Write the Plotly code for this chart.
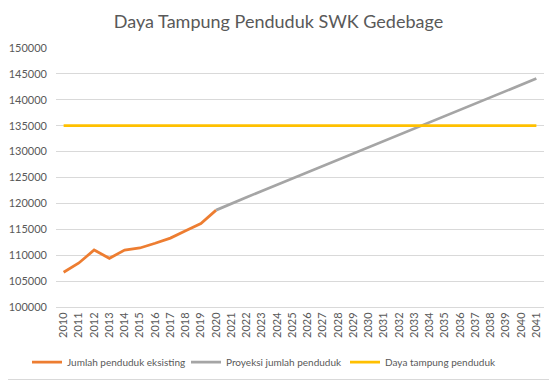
import plotly.graph_objects as go

years = [str(y) for y in range(2010, 2042)]
existing_years = years[:11]
existing_values = [106700, 108500, 111000, 109400, 111000, 111400, 112300, 113300, 114700, 116100, 118700]
projection_years = years[10:]
projection_values = [118700, 120000, 121200, 122400, 123600, 124800, 126000, 127200, 128400, 129700, 130900,
                     132100, 133300, 134500, 135700, 136900, 138100, 139200, 140400, 141600, 142800, 144100]
capacity_values = [135000] * len(years)

FONT = "Lato, Open Sans, sans-serif"
fig = go.Figure()
fig.add_trace(go.Scatter(x=existing_years, y=existing_values, mode="lines",
                         name="Jumlah penduduk eksisting", line=dict(color="#ED7D31", width=2.75)))
fig.add_trace(go.Scatter(x=projection_years, y=projection_values, mode="lines",
                         name="Proyeksi jumlah penduduk", line=dict(color="#A5A5A5", width=2.75)))
fig.add_trace(go.Scatter(x=years, y=capacity_values, mode="lines",
                         name="Daya tampung penduduk", line=dict(color="#FFC000", width=2.75)))

# page body has an 8px margin, so the figure is drawn 8px smaller and offset
OFF = 8
W, H = 557 - OFF, 380 - OFF
L, R, T, B = 56 - OFF, 13, 48 - OFF, 73
pw, ph = W - L - R, H - T - B
fig.update_layout(
    width=W, height=H,
    margin=dict(l=L, r=R, t=T, b=B, autoexpand=False),
    paper_bgcolor="white", plot_bgcolor="white",
    font=dict(family=FONT, color="#595959", size=11),
    title=dict(text="Daya Tampung Penduduk SWK Gedebage", x=0.5 - OFF / 2 / W, xanchor="center",
               yref="container", y=1 - (22 - OFF) / H, yanchor="middle",
               font=dict(size=18, color="#595959", family=FONT)),
    showlegend=True,
    legend=dict(orientation="h", xref="container", yref="container",
                x=19 / W, xanchor="left", y=1 - (362 - OFF) / H, yanchor="middle",
                font=dict(size=10, color="#595959"), itemwidth=30, traceorder="normal",
                entrywidth=114, entrywidthmode="pixels"),
    xaxis=dict(type="category", categoryorder="array", categoryarray=years, range=[-0.5, 31.5],
               tickangle=-90, showgrid=False, showline=True, linecolor="#D9D9D9", ticks="",
               tickfont=dict(size=11, color="#595959"), fixedrange=True),
    yaxis=dict(range=[100000, 150000], dtick=5000, tickformat="d", showgrid=True, gridcolor="#D9D9D9",
               zeroline=False, showline=False, ticks="", ticklabelstandoff=8,
               tickfont=dict(size=11, color="#595959")),
    shapes=[
        dict(type="line", xref="paper", yref="paper",
             x0=(W - 0.5 - L) / pw, x1=(W - 0.5 - L) / pw,
             y0=-(H - 0.5 - T - ph) / ph, y1=1 + T / ph,
             line=dict(color="#D9D9D9", width=1)),
        dict(type="line", xref="paper", yref="paper",
             x0=-L / pw, x1=(W - 0.5 - L) / pw,
             y0=-(H - 0.5 - T - ph) / ph, y1=-(H - 0.5 - T - ph) / ph,
             line=dict(color="#D9D9D9", width=1)),
    ],
)
fig.write_html("out.html")
